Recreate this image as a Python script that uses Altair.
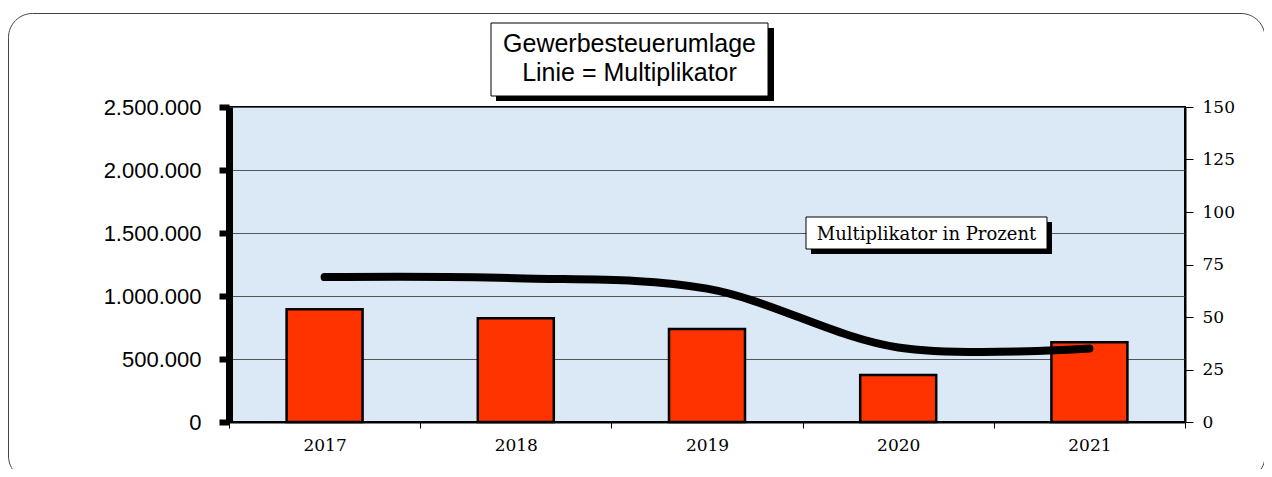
import altair as alt
import pandas as pd

years = ["2017", "2018", "2019", "2020", "2021"]
umlage = [895000, 823000, 738000, 373000, 633000]
multiplikator = [69, 68.5, 63.5, 35.5, 35]

title_lines = ["Gewerbesteuerumlage", "Linie = Multiplikator"]
note_text = "Multiplikator in Prozent"

left_ticks = [0, 500000, 1000000, 1500000, 2000000, 2500000]
right_ticks = [0, 25, 50, 75, 100, 125, 150]

W, H = 956, 315

bars_df = pd.DataFrame({"Jahr": years, "Umlage": umlage})
line_df = pd.DataFrame({"Jahr": years, "Multiplikator": multiplikator})
one = pd.DataFrame({"a": [0]})

SERIF = "DejaVu Serif"

x_enc = alt.X(
    "Jahr:O",
    scale=alt.Scale(paddingInner=0, paddingOuter=0),
    axis=alt.Axis(
        title=None, labelAngle=0, tickBand="extent", tickSize=6, tickColor="black",
        tickWidth=1, domainColor="black", domainWidth=2, labelFont=SERIF,
        labelFontSize=17, labelColor="black", labelPadding=9, grid=False,
    ),
)

bars = alt.Chart(bars_df).mark_bar(
    width=76, color="#ff3300", stroke="black", strokeWidth=2.5
).encode(
    x=x_enc,
    y=alt.Y(
        "Umlage:Q",
        scale=alt.Scale(domain=[0, 2500000], nice=False),
        axis=alt.Axis(
            title=None, values=left_ticks, format=",d",
            labelExpr="replace(replace(datum.label, ',', '.'), ',', '.')",
            labelFont="Liberation Sans", labelFontSize=22, labelColor="black",
            labelPadding=18, tickSize=10, tickWidth=6, tickColor="black",
            domainColor="black", domainWidth=7, grid=True, gridColor="#555555",
            gridWidth=1,
        ),
    ),
)

line = alt.Chart(line_df).mark_line(
    color="black", strokeWidth=8, strokeCap="round", interpolate="catmull-rom"
).encode(
    x=alt.X("Jahr:O"),
    y=alt.Y(
        "Multiplikator:Q",
        scale=alt.Scale(domain=[0, 150], nice=False),
        axis=alt.Axis(
            title=None, orient="right", values=right_ticks, labelFont=SERIF,
            labelFontSize=17, labelColor="black", labelPadding=9, tickSize=8,
            tickWidth=1, tickColor="black", domainColor="black", domainWidth=2,
            grid=False,
        ),
    ),
)

border = alt.Chart(one).mark_rect(
    filled=False, stroke="#444444", strokeWidth=1, cornerRadius=24
).encode(x=alt.value(-220.5), x2=alt.value(1036), y=alt.value(-93.5), y2=alt.value(373))

title_shadow = alt.Chart(one).mark_rect(fill="black").encode(
    x=alt.value(267), x2=alt.value(545), y=alt.value(-79), y2=alt.value(-6)
)
title_box = alt.Chart(one).mark_rect(fill="white", stroke="black", strokeWidth=1).encode(
    x=alt.value(262), x2=alt.value(539), y=alt.value(-84), y2=alt.value(-11)
)
title_t1 = alt.Chart(one).mark_text(
    text=title_lines[0], font="Liberation Sans", fontSize=25, color="black",
    align="center", baseline="alphabetic"
).encode(x=alt.value(400.5), y=alt.value(-55))
title_t2 = alt.Chart(one).mark_text(
    text=title_lines[1], font="Liberation Sans", fontSize=25, color="black",
    align="center", baseline="alphabetic"
).encode(x=alt.value(400.5), y=alt.value(-26))

note_shadow = alt.Chart(one).mark_rect(fill="black").encode(
    x=alt.value(582), x2=alt.value(823), y=alt.value(115), y2=alt.value(147)
)
note_box = alt.Chart(one).mark_rect(fill="white", stroke="black", strokeWidth=1).encode(
    x=alt.value(577), x2=alt.value(818), y=alt.value(110), y2=alt.value(142)
)
note_t = alt.Chart(one).mark_text(
    text=note_text, font=SERIF, fontSize=18, color="black",
    align="center", baseline="alphabetic"
).encode(x=alt.value(697.5), y=alt.value(133))

chart = alt.layer(
    border, bars, line, title_shadow, title_box, title_t1, title_t2,
    note_shadow, note_box, note_t
).resolve_scale(y="independent").properties(
    width=W, height=H,
    autosize=alt.AutoSizeParams(type="none"),
    padding={"left": 221, "top": 99, "right": 79, "bottom": 47},
).configure(
    background="white",
    view=alt.ViewConfig(fill="#dbe8f6", stroke="black", strokeWidth=2),
)

chart.save("out.html", embed_options={"renderer": "svg", "actions": False})
